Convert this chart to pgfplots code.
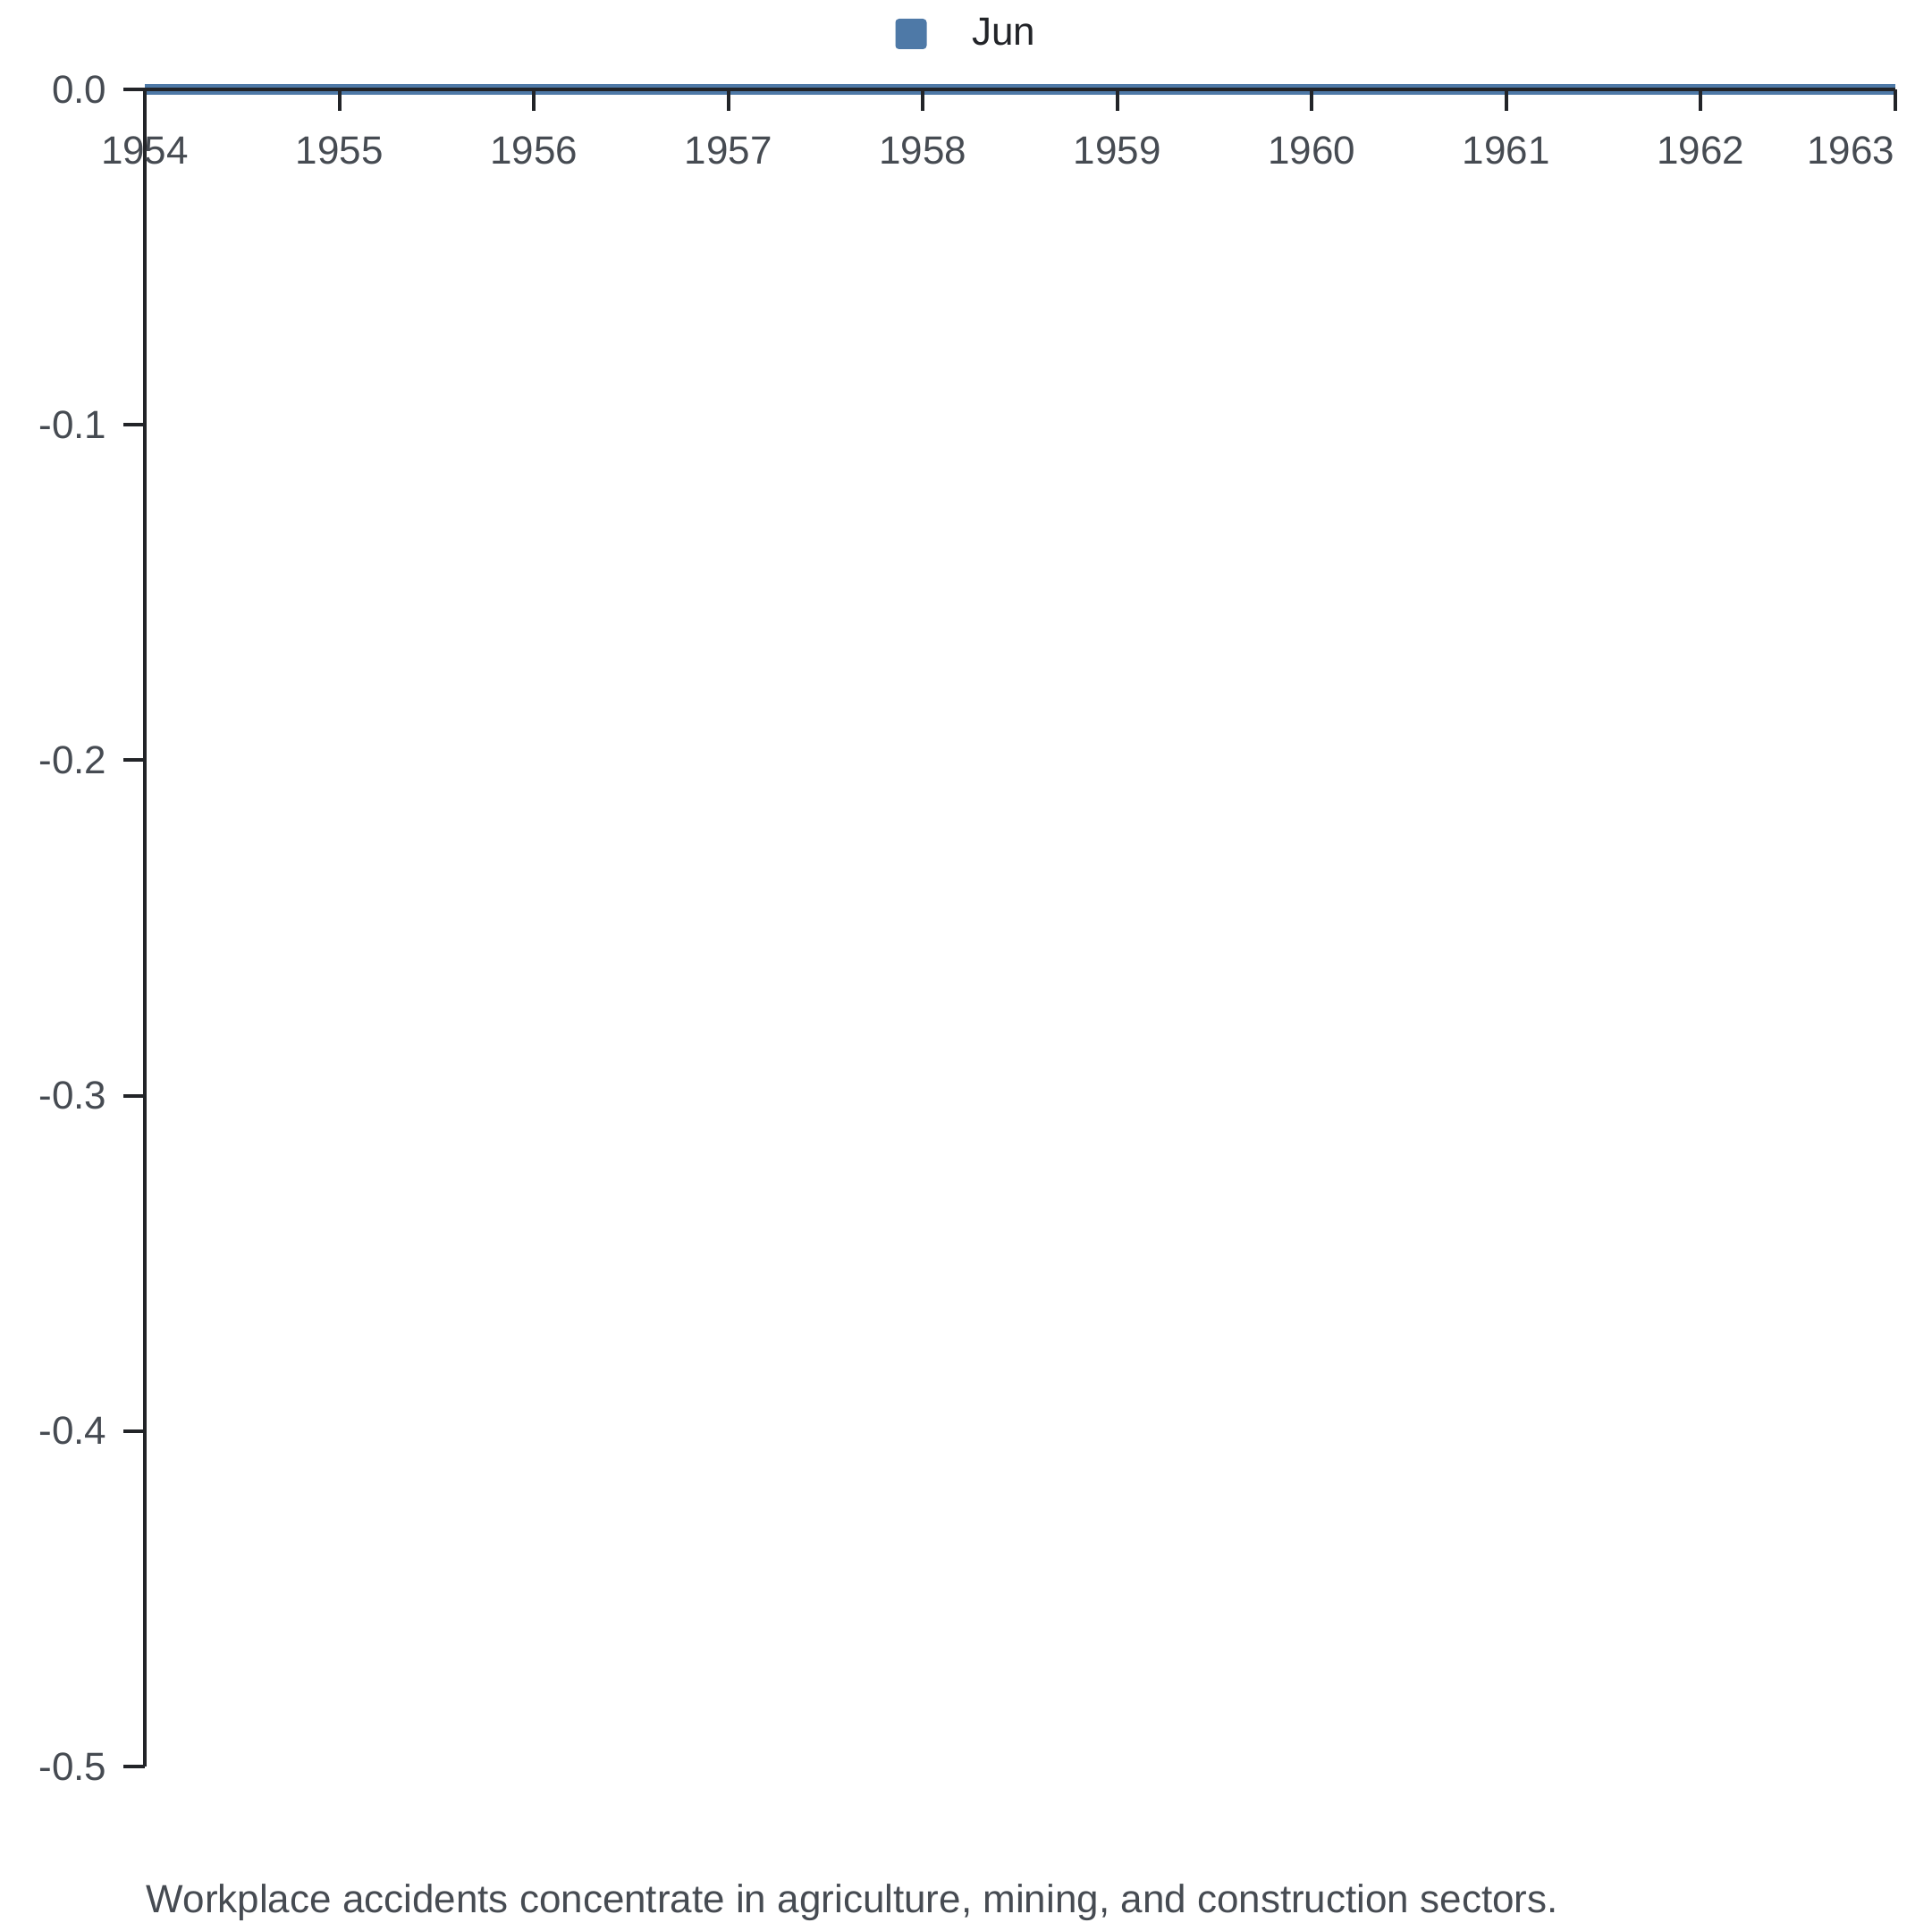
\documentclass[border=0pt]{standalone}
\usepackage{pgfplots}
\pgfplotsset{compat=1.18}
\usepackage{fontspec}
\setmainfont{Liberation Sans}
\definecolor{jblue}{HTML}{4E79A7}
\definecolor{axdark}{HTML}{222428}
\definecolor{txtgray}{HTML}{464B52}
\begin{document}
\begin{tikzpicture}
\useasboundingbox (-40.5pt,-46pt) rectangle (499.5pt,494pt);
\begin{axis}[
  scale only axis,
  width=489.5pt, height=469pt,
  xmin=1954, xmax=1963, ymin=-0.5, ymax=0,
  axis x line*=top, axis y line*=left,
  axis on top, clip=false,
  axis line style={axdark, line width=1pt},
  every tick/.style={axdark, line width=1pt},
  major tick length=6pt,
  xtick align=inside, ytick align=outside,
  xtick={1954,1955,1956,1957,1958,1959,1960,1961,1962},
  extra x ticks={1963},
  extra x tick style={xticklabel style={anchor=north east, xshift=0pt}},
  ytick={-0.5,-0.4,-0.3,-0.2,-0.1,0},
  yticklabels={-0.5,-0.4,-0.3,-0.2,-0.1,0.0},
  xticklabel={\pgfmathparse{int(\tick)}\pgfmathresult},
  xticklabel style={anchor=north, inner sep=0pt, yshift=-13pt, text=txtgray, font=\fontsize{11}{13}\selectfont},
  yticklabel style={anchor=east, inner sep=0pt, xshift=-4.5pt, text=txtgray, font=\fontsize{11}{13}\selectfont},
  /pgf/number format/assume math mode=true,
  legend style={at={([yshift=15.5pt,xshift=-5.75pt]axis description cs:0.4405,1)}, anchor=west, draw=none, fill=none, inner sep=0pt, outer sep=0pt,
    nodes={inner sep=0pt, text=axdark}, font=\fontsize{11}{13}\selectfont},
  legend image code/.code={\fill[jblue, draw=none, rounded corners=1pt] (0pt,-4.25pt) rectangle (8.75pt,4.25pt); \path (20pt,0pt);},
]
\addplot[jblue, line width=3pt] coordinates {
(1954,0) (1955,0) (1956,0) (1957,0) (1958,0) (1959,0) (1960,0) (1961,0) (1962,0) (1963,0)
};
\addlegendentry{Jun}
\end{axis}
\node[anchor=base west, inner sep=0pt, text=txtgray, font=\fontsize{11}{13}\selectfont] at (0.25pt,-41pt) {Workplace accidents concentrate in agriculture, mining, and construction sectors.};
\end{tikzpicture}
\end{document}
